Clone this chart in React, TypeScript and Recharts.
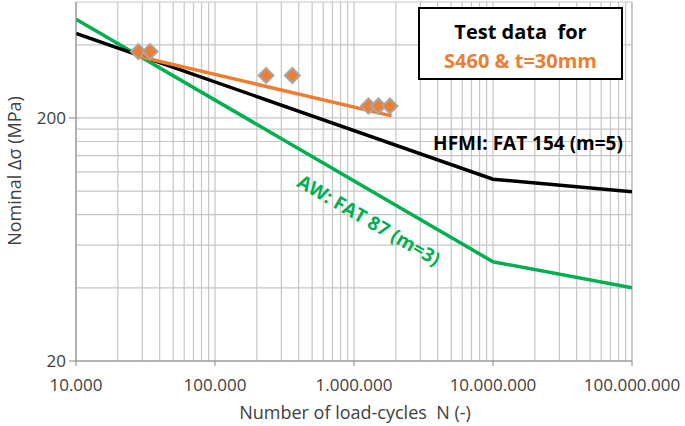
import React from 'react';
import { ComposedChart, Line, Scatter, XAxis, YAxis, ReferenceLine } from 'recharts';

const FONT = '"Open Sans", Lato, sans-serif';
const GREEN = '#00B050';
const ORANGE = '#ED7D31';

// S-N curves (N, nominal stress range in MPa)
const hfmiCurve = [
  { n: 10000, s: 446 },
  { n: 10000000, s: 112 },
  { n: 100000000, s: 99.5 },
];
const awCurve = [
  { n: 10000, s: 510 },
  { n: 10000000, s: 51.2 },
  { n: 100000000, s: 40 },
];
const testFit = [
  { n: 28800, s: 357 },
  { n: 1860000, s: 204 },
];
const testPoints = [
  { n: 28100, s: 375 },
  { n: 34100, s: 375 },
  { n: 233000, s: 299 },
  { n: 360000, s: 299 },
  { n: 1270000, s: 224 },
  { n: 1500000, s: 224 },
  { n: 1815000, s: 224 },
];

const xTicks = [10000, 100000, 1000000, 10000000, 100000000];
const yTicks = [20, 200];

// log gridlines: 1..9 times each decade start
const xGrid: number[] = [];
[10000, 100000, 1000000, 10000000].forEach((d) => {
  for (let k = 1; k <= 9; k++) xGrid.push(k * d);
});
xGrid.push(100000000);
const yGrid: number[] = [];
[20, 200].forEach((d) => {
  for (let k = 1; k <= 9; k++) if (k * d <= 600) yGrid.push(k * d);
});

const fmt = (v: number) => String(v).replace(/\B(?=(\d{3})+(?!\d))/g, '.');

const Diamond = (props: any) => {
  const { cx, cy } = props;
  if (cx == null || cy == null) return null;
  const r = 7.5;
  return (
    <polygon
      points={`${cx},${cy - r} ${cx + r},${cy} ${cx},${cy + r} ${cx - r},${cy}`}
      fill={ORANGE}
      stroke="#A6A6A6"
      strokeWidth={2}
    />
  );
};

export default function App() {
  return (
    <div style={{ position: 'relative', width: 685, height: 426, background: '#fff', fontFamily: FONT }}>
      <style>{`body{margin:0}`}</style>
      <ComposedChart width={685} height={426} margin={{ top: 2, right: 53, left: 0, bottom: 0 }}>
        <XAxis
          dataKey="n"
          type="number"
          scale="log"
          domain={[10000, 100000000]}
          ticks={xTicks}
          tickFormatter={fmt}
          allowDataOverflow
          height={65}
          stroke="#868686"
          tickSize={5}
          tickMargin={13}
          tick={{ fill: '#404040', fontSize: 17, fontFamily: FONT }}
        />
        <YAxis
          dataKey="s"
          type="number"
          scale="log"
          domain={[20, 600]}
          ticks={yTicks}
          allowDataOverflow
          width={76}
          stroke="#868686"
          tickSize={7}
          tickMargin={3}
          tick={{ fill: '#404040', fontSize: 17, fontFamily: FONT }}
        />
        {xGrid.map((v) => (
          <ReferenceLine key={'x' + v} x={v} stroke={v === 100000000 ? '#A6A6A6' : '#C6C6C6'} strokeWidth={1.2} />
        ))}
        {yGrid.map((v) => (
          <ReferenceLine key={'y' + v} y={v} stroke="#C6C6C6" strokeWidth={1.2} />
        ))}
        <Line data={awCurve} dataKey="s" type="linear" stroke={GREEN} strokeWidth={3.5} dot={false} isAnimationActive={false} />
        <Line data={hfmiCurve} dataKey="s" type="linear" stroke="#000" strokeWidth={3.5} dot={false} isAnimationActive={false} />
        <Line data={testFit} dataKey="s" type="linear" stroke={ORANGE} strokeWidth={3.5} dot={false} isAnimationActive={false} />
        <Scatter data={testPoints} dataKey="s" shape={<Diamond />} isAnimationActive={false} />
      </ComposedChart>

      <div
        style={{
          position: 'absolute', left: 14, top: 171, transform: 'translate(-50%,-50%) rotate(-90deg)',
          whiteSpace: 'nowrap', fontSize: 18, color: '#404040',
        }}
      >
        Nominal Δσ (MPa)
      </div>
      <div
        style={{
          position: 'absolute', left: 355, top: 412, transform: 'translate(-50%,-50%)',
          whiteSpace: 'nowrap', fontSize: 18, color: '#404040',
        }}
      >
        Number of load-cycles&nbsp; N (-)
      </div>

      <div
        style={{
          position: 'absolute', left: 418, top: 7, width: 205, height: 73, boxSizing: 'border-box',
          border: '2px solid #000', background: '#fff', textAlign: 'center', fontWeight: 700, fontSize: 20,
        }}
      >
        <div style={{ position: 'absolute', left: 0, right: 0, top: 22, transform: 'translateY(-50%)', color: '#000' }}>
          Test data&nbsp; for
        </div>
        <div style={{ position: 'absolute', left: 0, right: 0, top: 51, transform: 'translateY(-50%)', color: ORANGE }}>
          S460 &amp; t=30mm
        </div>
      </div>

      <div
        style={{
          position: 'absolute', left: 528, top: 143, transform: 'translate(-50%,-50%)',
          whiteSpace: 'nowrap', fontSize: 19, fontWeight: 700, color: '#000',
        }}
      >
        HFMI: FAT 154 (m=5)
      </div>
      <div
        style={{
          position: 'absolute', left: 369, top: 220, transform: 'translate(-50%,-50%) rotate(30deg)',
          whiteSpace: 'nowrap', fontSize: 19, fontWeight: 700, color: GREEN,
        }}
      >
        AW: FAT 87 (m=3)
      </div>
    </div>
  );
}
